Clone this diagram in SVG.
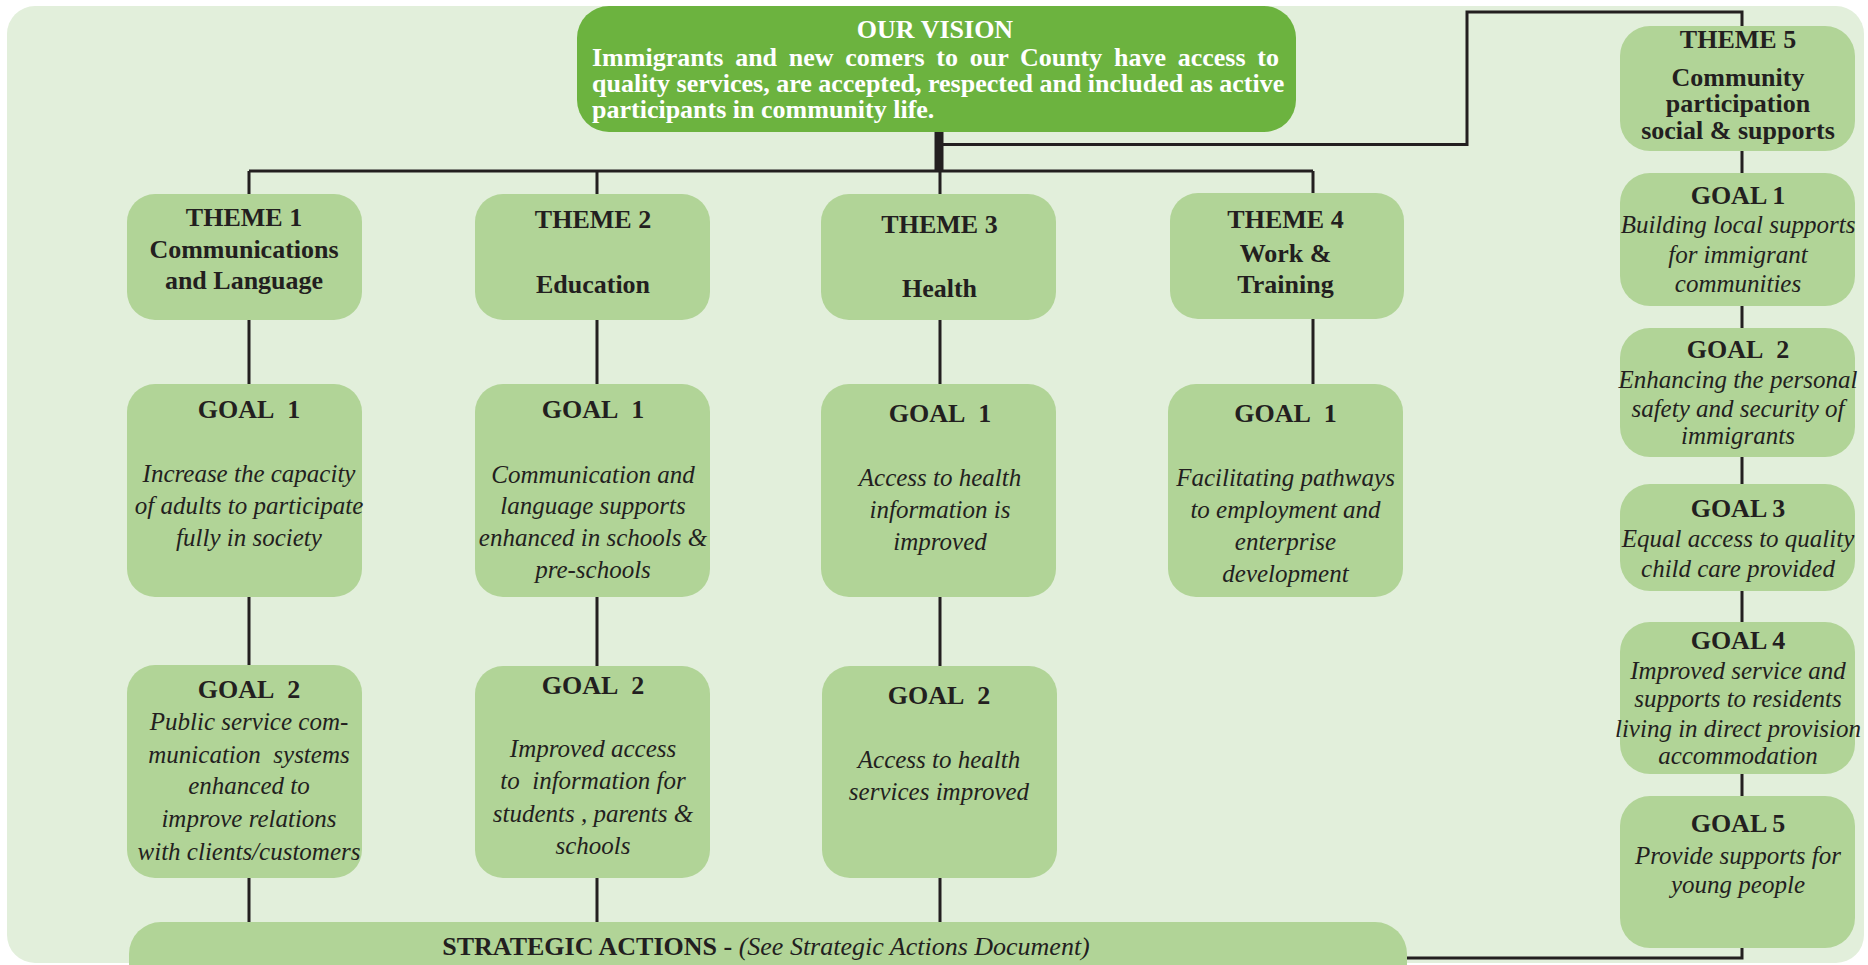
<svg xmlns="http://www.w3.org/2000/svg" width="1868" height="965" viewBox="0 0 1868 965">
<style>
.bg{fill:#e2efdb}
.box{fill:#b1d497}
.vis{fill:#6cb33f}
.ln{fill:none;stroke:#231f20;stroke-width:3}
.t{font-family:"Liberation Serif","Times New Roman",serif;fill:#231f20;text-anchor:middle}
.b{font-weight:bold;font-size:26px}
.i{font-style:italic;font-size:25px}
.w{font-family:"Liberation Serif","Times New Roman",serif;fill:#ffffff;font-weight:bold;font-size:26px}
</style>
<rect width="1868" height="965" fill="#ffffff"/>
<rect class="bg" x="7" y="6" width="1857" height="957" rx="28"/>
<g id="connectors">
<line x1="939" y1="132" x2="939" y2="172" stroke="#231f20" stroke-width="9"/>
<path class="ln" d="M249 171 H1313"/>
<path class="ln" d="M249 171 V922 M597 171 V922 M940 171 V922 M1313 171 V384" stroke-width="2.5"/>
<path class="ln" d="M939 144.5 H1467 V12 H1742 V958 H1405"/>
</g>
<g id="vision">
<rect class="vis" x="577" y="6" width="719" height="126" rx="32"/>
<text class="w" x="935" y="38" text-anchor="middle">OUR VISION</text>
<text class="w" x="592" y="66" word-spacing="5.2">Immigrants and new comers to our County have access to</text>
<text class="w" x="592" y="92">quality services, are accepted, respected and included as active</text>
<text class="w" x="592" y="118">participants in community life.</text>
</g>
<g id="theme1">
<rect class="box" x="127" y="194" width="235" height="126" rx="28"/>
<text class="t b" x="244" y="226">THEME 1</text>
<text class="t b" x="244" y="258">Communications</text>
<text class="t b" x="244" y="289">and Language</text>
</g>
<g id="theme2">
<rect class="box" x="475" y="194" width="235" height="126" rx="28"/>
<text class="t b" x="593" y="228">THEME 2</text>
<text class="t b" x="593" y="293">Education</text>
</g>
<g id="theme3">
<rect class="box" x="821" y="194" width="235" height="126" rx="28"/>
<text class="t b" x="939.5" y="233">THEME 3</text>
<text class="t b" x="939.5" y="297">Health</text>
</g>
<g id="theme4">
<rect class="box" x="1170" y="193" width="234" height="126" rx="28"/>
<text class="t b" x="1285.5" y="228">THEME 4</text>
<text class="t b" x="1285.5" y="262">Work &amp;</text>
<text class="t b" x="1285.5" y="293">Training</text>
</g>
<g id="t1goal1">
<rect class="box" x="127" y="384" width="235" height="213" rx="28"/>
<text class="t b" x="249" y="418">GOAL&#160; 1</text>
<text class="t i" x="249" y="482" font-size="24.5">Increase the capacity</text>
<text class="t i" x="249" y="514" font-size="24.5">of adults to participate</text>
<text class="t i" x="249" y="546" font-size="24.5">fully in society</text>
</g>
<g id="t2goal1">
<rect class="box" x="475" y="384" width="235" height="213" rx="28"/>
<text class="t b" x="593" y="418">GOAL&#160; 1</text>
<text class="t i" x="593" y="483">Communication and</text>
<text class="t i" x="593" y="514">language supports</text>
<text class="t i" x="593" y="546">enhanced in schools &amp;</text>
<text class="t i" x="593" y="578">pre-schools</text>
</g>
<g id="t3goal1">
<rect class="box" x="821" y="384" width="235" height="213" rx="28"/>
<text class="t b" x="940" y="422">GOAL&#160; 1</text>
<text class="t i" x="940" y="486">Access to health</text>
<text class="t i" x="940" y="518">information is</text>
<text class="t i" x="940" y="550">improved</text>
</g>
<g id="t4goal1">
<rect class="box" x="1168" y="384" width="235" height="213" rx="28"/>
<text class="t b" x="1285.5" y="422">GOAL&#160; 1</text>
<text class="t i" x="1285.5" y="486" font-size="26">Facilitating pathways</text>
<text class="t i" x="1285.5" y="518" font-size="26">to employment and</text>
<text class="t i" x="1285.5" y="550" font-size="26">enterprise</text>
<text class="t i" x="1285.5" y="582" font-size="26">development</text>
</g>
<g id="t1goal2">
<rect class="box" x="127" y="665" width="235" height="213" rx="28"/>
<text class="t b" x="249" y="698">GOAL&#160; 2</text>
<text class="t i" x="249" y="730">Public service com-</text>
<text class="t i" x="249" y="763">munication&#160; systems</text>
<text class="t i" x="249" y="794">enhanced to</text>
<text class="t i" x="249" y="827">improve relations</text>
<text class="t i" x="249" y="860">with clients/customers</text>
</g>
<g id="t2goal2">
<rect class="box" x="475" y="666" width="235" height="212" rx="28"/>
<text class="t b" x="593" y="694">GOAL&#160; 2</text>
<text class="t i" x="593" y="757" font-size="24.5">Improved access</text>
<text class="t i" x="593" y="789" font-size="24.5">to&#160; information for</text>
<text class="t i" x="593" y="822" font-size="24.5">students , parents &amp;</text>
<text class="t i" x="593" y="854" font-size="24.5">schools</text>
</g>
<g id="t3goal2">
<rect class="box" x="822" y="666" width="235" height="212" rx="28"/>
<text class="t b" x="939" y="704">GOAL&#160; 2</text>
<text class="t i" x="939" y="768" font-size="26.5">Access to health</text>
<text class="t i" x="939" y="800" font-size="26.5">services improved</text>
</g>
<g id="strategic">
<rect class="box" x="129" y="922" width="1278" height="80" rx="32"/>
<text class="t b" x="766" y="955">STRATEGIC ACTIONS - <tspan font-weight="normal" font-style="italic">(See Strategic Actions Document)</tspan></text>
</g>
<g id="theme5">
<rect class="box" x="1620" y="26" width="235" height="125" rx="30"/>
<text class="t b" x="1738" y="48">THEME 5</text>
<text class="t b" x="1738" y="86">Community</text>
<text class="t b" x="1738" y="112">participation</text>
<text class="t b" x="1738" y="139">social &amp; supports</text>
</g>
<g id="t5goal1">
<rect class="box" x="1620" y="173" width="235" height="133" rx="30"/>
<text class="t b" x="1738" y="204">GOAL 1</text>
<text class="t i" x="1738" y="233" font-size="24">Building local supports</text>
<text class="t i" x="1738" y="263" font-size="24">for immigrant</text>
<text class="t i" x="1738" y="292" font-size="24">communities</text>
</g>
<g id="t5goal2">
<rect class="box" x="1620" y="328" width="235" height="129" rx="30"/>
<text class="t b" x="1738" y="358">GOAL&#160; 2</text>
<text class="t i" x="1738" y="388" font-size="22.5">Enhancing the personal</text>
<text class="t i" x="1738" y="417" font-size="22.5">safety and security of</text>
<text class="t i" x="1738" y="444" font-size="22.5">immigrants</text>
</g>
<g id="t5goal3">
<rect class="box" x="1620" y="484" width="235" height="107" rx="30"/>
<text class="t b" x="1738" y="517">GOAL 3</text>
<text class="t i" x="1738" y="547" font-size="22.5">Equal access to quality</text>
<text class="t i" x="1738" y="577" font-size="22.5">child care provided</text>
</g>
<g id="t5goal4">
<rect class="box" x="1620" y="622" width="235" height="152" rx="30"/>
<text class="t b" x="1738" y="649">GOAL 4</text>
<text class="t i" x="1738" y="679" font-size="22">Improved service and</text>
<text class="t i" x="1738" y="707" font-size="22">supports to residents</text>
<text class="t i" x="1738" y="737" font-size="22">living in direct provision</text>
<text class="t i" x="1738" y="764" font-size="22">accommodation</text>
</g>
<g id="t5goal5">
<rect class="box" x="1620" y="796" width="235" height="152" rx="30"/>
<text class="t b" x="1738" y="832">GOAL 5</text>
<text class="t i" x="1738" y="864" font-size="24.5">Provide supports for</text>
<text class="t i" x="1738" y="893" font-size="24.5">young people</text>
</g>
</svg>
